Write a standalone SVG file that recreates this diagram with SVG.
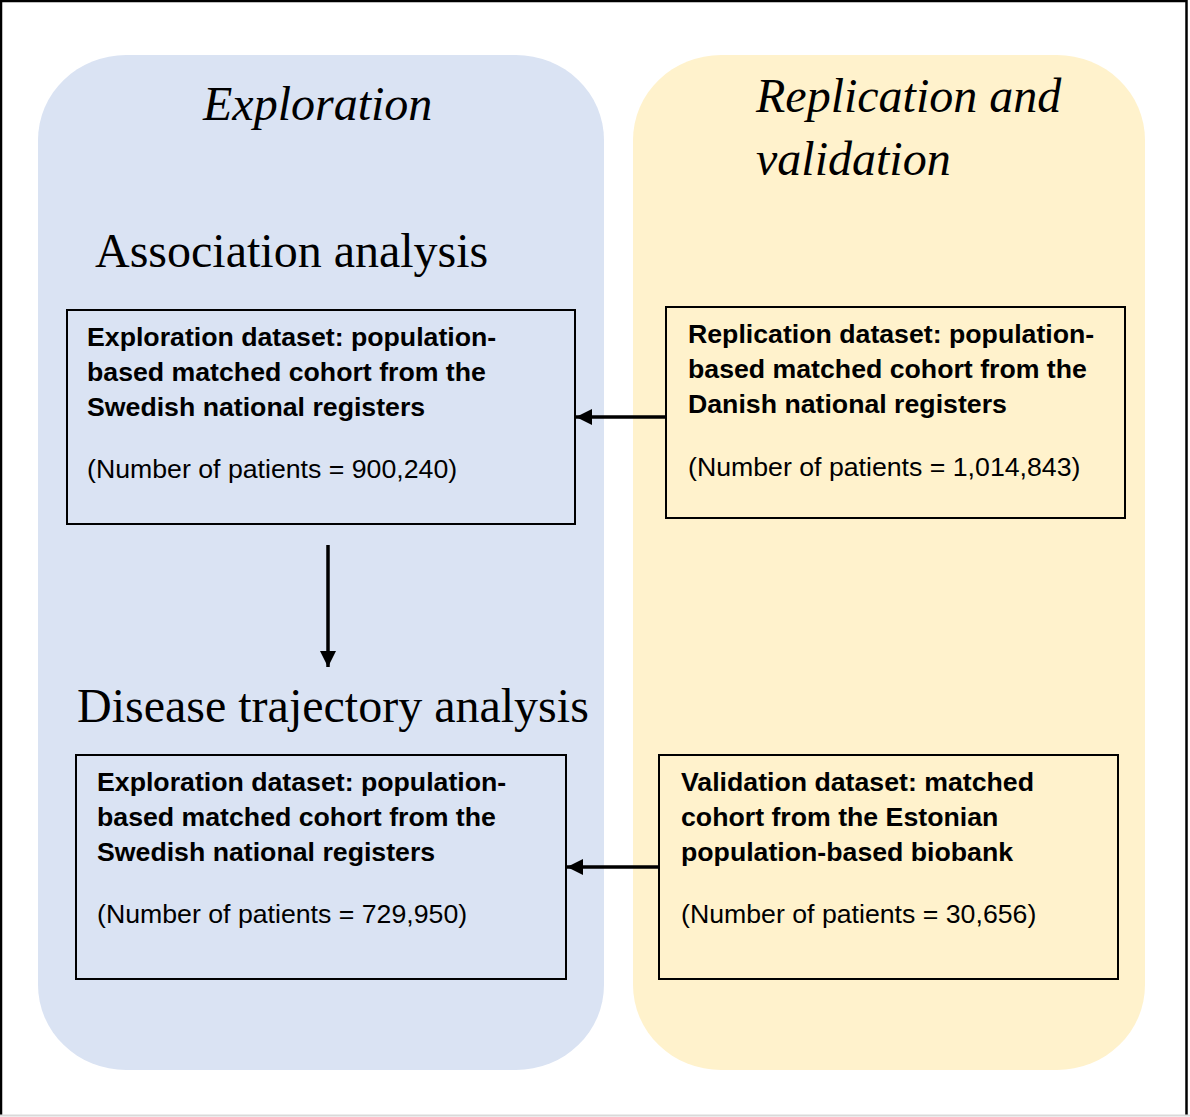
<svg xmlns="http://www.w3.org/2000/svg" width="1190" height="1117" viewBox="0 0 1190 1117">
<defs>
<style>
.title{font-family:"Liberation Serif","Times New Roman",serif;font-size:48px;fill:#000}
.it{font-style:italic}
.b{font-family:"Liberation Sans",Arial,sans-serif;font-size:26.7px;fill:#000;font-weight:bold}
.r{font-family:"Liberation Sans",Arial,sans-serif;font-size:26.7px;fill:#000}
.box{fill:none;stroke:#000;stroke-width:2}
.conn{stroke:#000;stroke-width:3.5;fill:none}
</style>
<marker id="ah" viewBox="0 0 16 16" refX="16" refY="8" markerWidth="16" markerHeight="16" markerUnits="userSpaceOnUse" orient="auto">
<path d="M0,0 L16,8 L0,16 Z" fill="#000"/>
</marker>
</defs>
<rect x="0" y="0" width="1190" height="1117" fill="#fff"/>
<path d="M1,1116 V1 H1186.5 V1116" fill="none" stroke="#000" stroke-width="2.5"/>
<line x1="0" y1="1115.5" x2="1190" y2="1115.5" stroke="#d9d9d9" stroke-width="2"/>

<g id="panel-exploration">
<rect x="38" y="55" width="566" height="1015" rx="88" ry="85" fill="#DAE3F3"/>
<text class="title it" x="203" y="120">Exploration</text>
<text class="title" x="95" y="267">Association analysis</text>
<text class="title" x="77" y="722">Disease trajectory analysis</text>
</g>

<g id="panel-replication">
<rect x="633" y="55" width="512" height="1015" rx="88" ry="85" fill="#FFF2CC"/>
<text class="title it" x="756" y="112">Replication and</text>
<text class="title it" x="756" y="175">validation</text>
</g>

<g id="node-exploration-assoc">
<rect class="box" x="67" y="310" width="508" height="214"/>
<text class="b" x="87" y="346">Exploration dataset: population-</text>
<text class="b" x="87" y="381">based matched cohort from the</text>
<text class="b" x="87" y="416">Swedish national registers</text>
<text class="r" x="87" y="478">(Number of patients = 900,240)</text>
</g>

<g id="node-replication">
<rect class="box" x="666" y="307" width="459" height="211"/>
<text class="b" x="688" y="343">Replication dataset: population-</text>
<text class="b" x="688" y="378">based matched cohort from the</text>
<text class="b" x="688" y="413">Danish national registers</text>
<text class="r" x="688" y="476">(Number of patients = 1,014,843)</text>
</g>

<g id="node-exploration-traj">
<rect class="box" x="76" y="755" width="490" height="224"/>
<text class="b" x="97" y="791">Exploration dataset: population-</text>
<text class="b" x="97" y="826">based matched cohort from the</text>
<text class="b" x="97" y="861">Swedish national registers</text>
<text class="r" x="97" y="923">(Number of patients = 729,950)</text>
</g>

<g id="node-validation">
<rect class="box" x="659" y="755" width="459" height="224"/>
<text class="b" x="681" y="791">Validation dataset: matched</text>
<text class="b" x="681" y="826">cohort from the Estonian</text>
<text class="b" x="681" y="861">population-based biobank</text>
<text class="r" x="681" y="923">(Number of patients = 30,656)</text>
</g>

<g id="connectors">
<line class="conn" x1="666" y1="417" x2="576" y2="417" marker-end="url(#ah)"/>
<line class="conn" x1="328" y1="545" x2="328" y2="667" marker-end="url(#ah)"/>
<line class="conn" x1="659" y1="867" x2="567" y2="867" marker-end="url(#ah)"/>
</g>
</svg>
